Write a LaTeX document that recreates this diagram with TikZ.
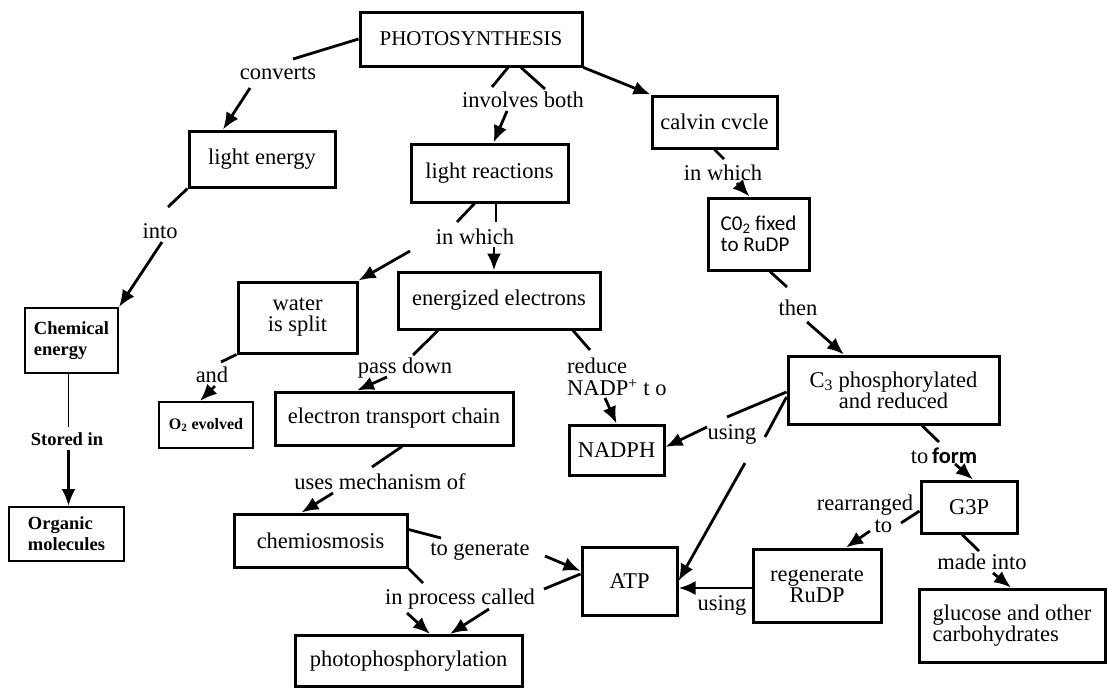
\documentclass[tikz,border=0pt]{standalone}
\usepackage{fontspec}
\setmainfont{Liberation Serif}
\newfontfamily\calfont{Carlito}
\usetikzlibrary{arrows.meta}

\newcommand{\mapfont}{\fontsize{22.5}{21}\selectfont}
\newcommand{\lblfont}{\fontsize{22.5}{22}\selectfont}
\newcommand{\tbfont}{\bfseries\fontsize{18.5}{21}\selectfont}

\tikzset{
  box/.style={draw, line width=3pt, align=center, inner sep=0pt, font=\mapfont},
  tbox/.style={draw, line width=2pt, align=left, inner sep=0pt, font=\tbfont},
  lbl/.style={inner sep=1pt, align=left, font=\lblfont},
  ln/.style={line width=2.8pt},
  thinln/.style={line width=1.8pt},
  arr/.style={line width=2.8pt, -{Latex[length=17pt,width=14pt]}},
}

\begin{document}
\begin{tikzpicture}[x=1pt,y=-1pt]
\useasboundingbox (0,0) rectangle (1110,688);

% boxes
\node[box, minimum width=222, minimum height=54, font=\fontsize{21}{21}\selectfont] (photo) at (471,39) {PHOTOSYNTHESIS};
\node[box, minimum width=146, minimum height=56] (lenergy) at (262,159) {light energy};
\node[box, minimum width=157, minimum height=58] (lreac) at (489.5,173) {light reactions};
\node[box, minimum width=125, minimum height=52] (calvin) at (714.5,122) {calvin cvcle};
\node[box, minimum width=101, minimum height=72, align=left, font=\calfont\fontsize{21}{21}\selectfont] (cofix) at (758.5,234) {C0\textsubscript{2} fixed\\to RuDP};
\node[tbox, minimum width=93, minimum height=65] (chem) at (71.5,340.5) {Chemical\\energy};
\node[tbox, minimum width=115, minimum height=54] (organic) at (66.5,534) {Organic\\molecules};
\node[box, minimum width=119, minimum height=71] (water) at (297.5,317.5) {water\\is split};
\node[box, minimum width=202, minimum height=57] (energ) at (499,300.5) {energized electrons};
\node[tbox, minimum width=94, minimum height=46, font=\bfseries\fontsize{16}{18}\selectfont] (otwo) at (206,425) {O\textsubscript{2} evolved};
\node[box, minimum width=238, minimum height=53] (etc) at (394,418.5) {electron transport chain};
\node[box, minimum width=95, minimum height=50] (nadph) at (616.5,450) {NADPH};
\node[box, minimum width=211, minimum height=68] (cthree) at (893.5,390) {C\textsubscript{3} phosphorylated\\and reduced};
\node[box, minimum width=96, minimum height=52] (gthree) at (969,507) {G3P};
\node[box, minimum width=95, minimum height=68] (atp) at (629.5,581) {ATP};
\node[box, minimum width=128, minimum height=73] (regen) at (817,585.5) {regenerate\\RuDP};
\node[box, minimum width=186, minimum height=73, align=left] (glucose) at (1012,625.5) {glucose and other\\carbohydrates};
\node[box, minimum width=173, minimum height=53] (chemio) at (320.5,540.5) {chemiosmosis};
\node[box, minimum width=227, minimum height=51] (photoph) at (408.5,661) {photophosphorylation};

% linking words
\node[lbl] (lconv) at (278,73) {converts};
\node[lbl] (linv) at (523,100) {involves both};
\node[lbl] (linto) at (160,231) {into};
\node[lbl] (lwhich1) at (475,237) {in which};
\node[lbl] (lwhich2) at (723,173) {in which};
\node[lbl] (lthen) at (798,308) {then};
\node[lbl] (land) at (212,375) {and};
\node[lbl] (lpass) at (405,368) {pass down};
\node[lbl, anchor=west] (lreduce) at (566,377) {reduce\\NADP\textsuperscript{+} t o};
\node[lbl, font=\tbfont] (lstored) at (67,439) {Stored in};
\node[lbl] (lusing1) at (732,434) {using};
\node[lbl] (lform) at (944,456) {to\,{\calfont\bfseries form}};
\node[lbl, align=right] (lrearr) at (865,514) {rearranged\\to\hspace*{21pt}};
\node[lbl] (lmade) at (982,562) {made into};
\node[lbl] (lusing2) at (722,605) {using};
\node[lbl] (luses) at (380,482) {uses mechanism of};
\node[lbl] (lgen) at (480,552) {to generate};
\node[lbl] (lproc) at (460,599) {in process called};

% connectors
\draw[ln] (photo.west) -- ([shift={(15,-14)}]lconv.center);
\draw[arr] ([shift={(-28,15)}]lconv.center) -- ([shift={(-39,0)}]lenergy.north);
\draw[ln] ([shift={(37,0)}]photo.south) -- ([shift={(-31,-13)}]linv.center);
\draw[ln] ([shift={(50,0)}]photo.south) -- ([shift={(22,-11)}]linv.center);
\draw[arr] ([shift={(-16,11)}]linv.center) -- ([shift={(4,0)}]lreac.north);
\draw[arr] (photo.south east) -- (calvin.north west);

\draw[ln] (lenergy.south west) -- ([shift={(8,-24)}]linto.center);
\draw[arr] ([shift={(2,11)}]linto.center) -- (chem.north east);
\draw[thinln] ([shift={(-3,0)}]chem.south) -- ([shift={(1.5,-12)}]lstored.center);
\draw[arr] ([shift={(1.5,11)}]lstored.center) -- ([shift={(2,0)}]organic.north);

\draw[ln] ([shift={(-15,0)}]lreac.south) -- ([shift={(-18,-15)}]lwhich1.center);
\draw[ln] ([shift={(6.5,0)}]lreac.south) -- ([shift={(21,-15)}]lwhich1.center);
\draw[arr] ([shift={(-65,14)}]lwhich1.center) -- (water.north east);
\draw[arr] ([shift={(19,10)}]lwhich1.center) -- ([shift={(-5,0)}]energ.north);

\draw[ln] (calvin.south) -- ([shift={(1,-14)}]lwhich2.center);
\draw[arr] ([shift={(14,10)}]lwhich2.center) -- ([shift={(-9,0)}]cofix.north);
\draw[ln] ([shift={(11.5,0)}]cofix.south) -- ([shift={(-11,-21)}]lthen.center);
\draw[arr] ([shift={(9,14)}]lthen.center) -- ([shift={(-49.5,0)}]cthree.north);

\draw[ln] (water.south west) -- ([shift={(9,-13)}]land.center);
\draw[arr] ([shift={(3,11)}]land.center) -- ([shift={(-6,0)}]otwo.north);
\draw[ln] ([shift={(-61,0)}]energ.south) -- ([shift={(8,-13)}]lpass.center);
\draw[arr] ([shift={(-18,9)}]lpass.center) -- ([shift={(-37,0)}]etc.north);
\draw[ln] ([shift={(74,0)}]energ.south) -- ([shift={(24,-27)}]lreduce.west);
\draw[arr] ([shift={(39,21)}]lreduce.west) -- (nadph.north);

\draw[ln] ([shift={(0,2)}]cthree.west) -- ([shift={(-5,-17)}]lusing1.center);
\draw[arr] ([shift={(-25,-7)}]lusing1.center) -- ([shift={(0,-3)}]nadph.east);
\draw[ln] ([shift={(0,7)}]cthree.west) -- ([shift={(33,3)}]lusing1.center);
\draw[arr] ([shift={(13,29)}]lusing1.center) -- (atp.east);

\draw[ln] ([shift={(28.5,0)}]cthree.south) -- ([shift={(-5,-14)}]lform.center);
\draw[arr] ([shift={(11,8)}]lform.center) -- ([shift={(4,0)}]gthree.north);
\draw[ln] ([shift={(0,4)}]gthree.west) -- ([shift={(36,9)}]lrearr.center);
\draw[arr] ([shift={(5,17)}]lrearr.center) -- ([shift={(29,0)}]regen.north);
\draw[ln] ([shift={(-7,0)}]gthree.south) -- ([shift={(-3,-11)}]lmade.center);
\draw[arr] ([shift={(11,11)}]lmade.center) -- ([shift={(-1,0)}]glucose.north);
\draw[arr] ([shift={(0,2.5)}]regen.west) -- ([shift={(0,7)}]atp.east);

\draw[ln] ([shift={(8,0)}]etc.south) -- ([shift={(-8,-15)}]luses.center);
\draw[arr] ([shift={(-47,11)}]luses.center) -- ([shift={(-19,0)}]chemio.north);
\draw[ln] ([shift={(0,-11)}]chemio.east) -- ([shift={(-39,-14)}]lgen.center);
\draw[arr] ([shift={(65,4)}]lgen.center) -- ([shift={(0,-10)}]atp.west);
\draw[ln] (chemio.south east) -- ([shift={(-37,-16)}]lproc.center);
\draw[arr] ([shift={(-53,14)}]lproc.center) -- ([shift={(21.5,0)}]photoph.north);
\draw[ln] ([shift={(0,-7)}]atp.west) -- ([shift={(84,-10)}]lproc.center);
\draw[arr] ([shift={(29,10)}]lproc.center) -- ([shift={(41.5,0)}]photoph.north);
\end{tikzpicture}
\end{document}
